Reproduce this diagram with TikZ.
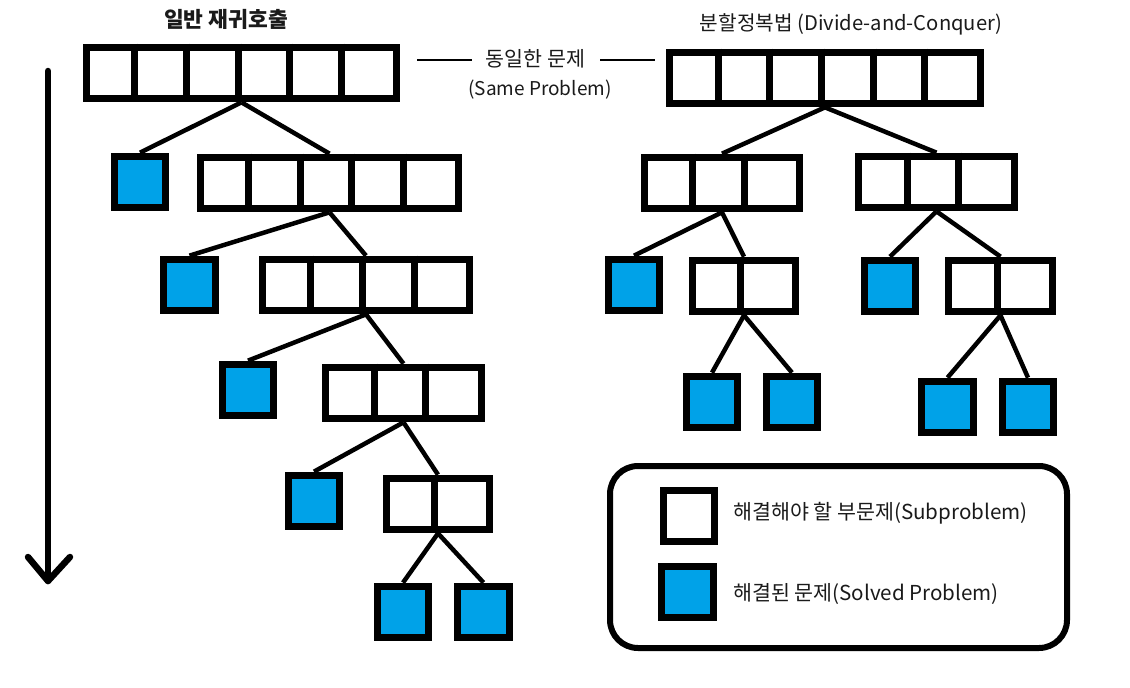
\documentclass[tikz,border=0pt]{standalone}
\usepackage{fontspec}
\setmainfont{Noto Sans CJK KR}
\definecolor{solvedblue}{HTML}{00A2E8}
\definecolor{txt}{HTML}{1A1A1A}
\tikzset{
  cellrow/.style={draw=black, line width=7pt, inner sep=0pt, minimum height=51.7pt, fill=white},
  solved/.style={draw=black, line width=7pt, inner sep=0pt, minimum width=51.7pt, minimum height=51.7pt, fill=solvedblue},
  divider/.style={line width=7pt, black},
  link/.style={line width=4.5pt, black},
  label/.style={text=txt, inner sep=0pt, font=\fontsize{20.6}{24}\selectfont},
  titlelabel/.style={text=txt, inner sep=0pt, font=\fontsize{21.5}{25}\selectfont\bfseries},
  arrowline/.style={line width=6.5pt, line cap=round, line join=round, black},
  thinline/.style={line width=1.3pt, black},
  legendbox/.style={draw=black, line width=6pt, rounded corners=28pt},
}
\newcommand\mkbar[4]{%
  \node[cellrow, minimum width=#2*51.7pt] (#1) at (#3,#4) {};
  \pgfmathtruncatemacro\lastk{#2-1}%
  \foreach \k in {1,...,\lastk}
    \draw[divider] ([xshift=\k*51.7pt]#1.north west) -- ([xshift=\k*51.7pt]#1.south west);
}
\begin{document}
\begin{tikzpicture}[x=1pt,y=-1pt]
\useasboundingbox (0,0) rectangle (1130,688);
\fill[white] (0,0) rectangle (1130,688);

% titles
\node[titlelabel] (t1) at (226,19) {일반 재귀호출};
\node[label, font=\fontsize{20.2}{24}\selectfont] (t2) at (851,24) {분할정복법 (Divide-and-Conquer)};
\node[label] (same) at (535.5,59) {동일한 문제};
\node[label, font=\fontsize{19}{22}\selectfont] (same2) at (540,90) {(Same Problem)};
\coordinate (sl1) at (417,60);
\coordinate (sl2) at (472,60);
\coordinate (sr1) at (600,60);
\coordinate (sr2) at (655,60);
\draw[thinline] (sl1) -- (sl2);
\draw[thinline] (sr1) -- (sr2);

% arrow
\coordinate (arrtop) at (48,71);
\coordinate (arrtip) at (48,581);
\draw[arrowline] (arrtop) -- (arrtip);
\draw[arrowline] ([shift={(-20,-24)}]arrtip) -- (arrtip) -- ([shift={(22,-24)}]arrtip);

% left tree
\mkbar{L0}{6}{241.5}{73}
\node[solved] (B1) at (140,182) {};
\mkbar{L1}{5}{329.5}{183}
\node[solved] (B2) at (189.5,285) {};
\mkbar{L2}{4}{366}{285}
\node[solved] (B3) at (248,390) {};
\mkbar{L3}{3}{403.5}{393}
\node[solved] (B4) at (314,501) {};
\mkbar{L4}{2}{438}{504}
\node[solved] (B5) at (403,612) {};
\node[solved] (B6) at (483.5,612) {};

\draw[link] (L0.south) -- (B1.north);
\draw[link] (L0.south) -- (L1.north);
\draw[link] (L1.south) -- (B2.north);
\draw[link] (L1.south) -- (L2.north);
\draw[link] (L2.south) -- (B3.north);
\draw[link] (L2.south) -- (L3.north);
\draw[link] (L3.south) -- (B4.north);
\draw[link] (L3.south) -- (L4.north);
\draw[link] (L4.south) -- (B5.north);
\draw[link] (L4.south) -- (B6.north);

% right tree
\mkbar{R0}{6}{825}{78}
\mkbar{R1a}{3}{722}{183}
\mkbar{R1b}{3}{936.5}{182}
\node[solved] (R2a) at (634,285) {};
\mkbar{R2b}{2}{744}{286}
\node[solved] (R2c) at (890,286) {};
\mkbar{R2d}{2}{1000.5}{286}
\node[solved] (R3a) at (712,402) {};
\node[solved] (R3b) at (792,402) {};
\node[solved] (R3c) at (947.5,407) {};
\node[solved] (R3d) at (1028,407) {};

\draw[link] (R0.south) -- (R1a.north);
\draw[link] (R0.south) -- (R1b.north);
\draw[link] (R1a.south) -- (R2a.north);
\draw[link] (R1a.south) -- (R2b.north);
\draw[link] (R1b.south) -- (R2c.north);
\draw[link] (R1b.south) -- (R2d.north);
\draw[link] (R2b.south) -- (R3a.north);
\draw[link] (R2b.south) -- (R3b.north);
\draw[link] (R2d.south) -- (R3c.north);
\draw[link] (R2d.south) -- (R3d.north);

% legend
\node[legendbox, minimum width=457pt, minimum height=182pt, inner sep=0pt] (legend) at (838.5,557) {};
\node[cellrow, minimum width=51.7pt] (LW) at (689,516) {};
\node[solved] (LB) at (687.5,592) {};
\node[label, anchor=west] (LWt) at (733,513) {해결해야 할 부문제(Subproblem)};
\node[label, anchor=west] (LBt) at (733,594) {해결된 문제(Solved Problem)};
\end{tikzpicture}
\end{document}
